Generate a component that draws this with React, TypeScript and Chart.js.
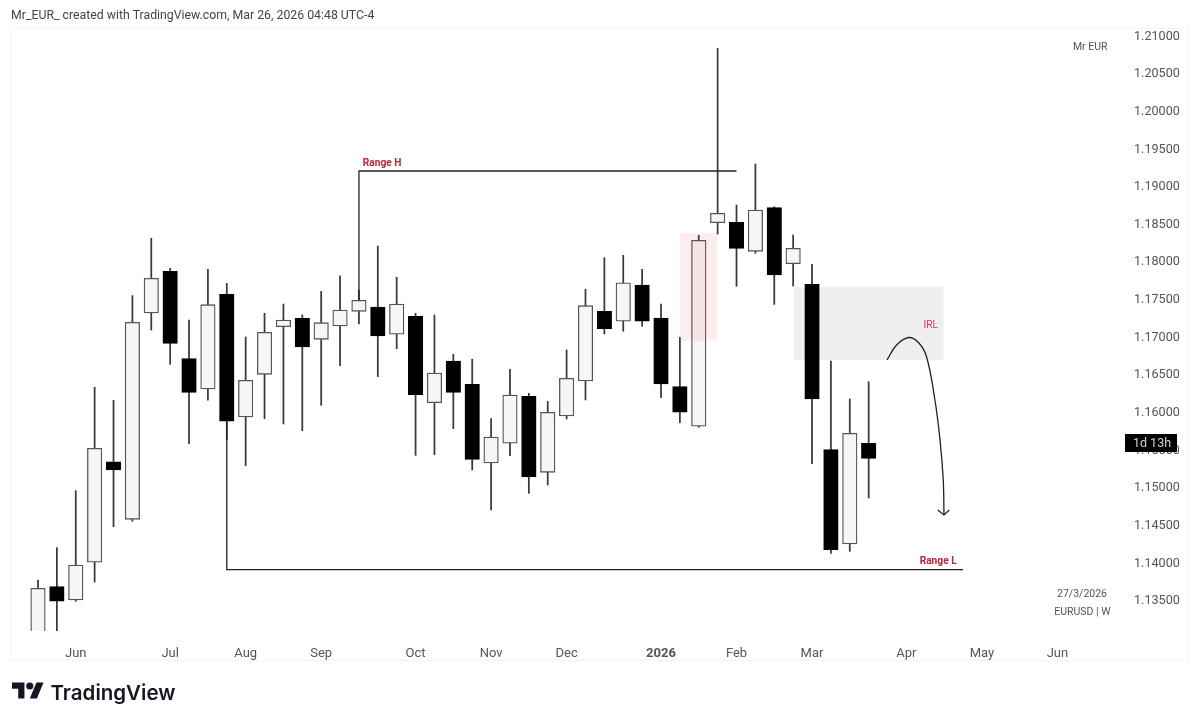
import { useEffect, useRef } from 'react'
import { Chart, registerables } from 'chart.js'

Chart.register(...registerables)

// weekly EURUSD candles
const opens = [1.129, 1.13671, 1.13494, 1.13995, 1.15331, 1.14566, 1.17307, 1.17861, 1.167, 1.16297, 1.17555, 1.15925, 1.16492, 1.17125, 1.17236, 1.16957, 1.17134, 1.17329, 1.17386, 1.17024, 1.17263, 1.16115, 1.16669, 1.1636, 1.15314, 1.15576, 1.162, 1.1519, 1.15938, 1.16403, 1.17329, 1.17197, 1.17679, 1.1724, 1.16328, 1.15802, 1.18506, 1.18512, 1.18126, 1.18706, 1.17962, 1.17688, 1.15491, 1.14238, 1.15576]
const highs = [1.1376, 1.14189, 1.14946, 1.1632, 1.16147, 1.17537, 1.18299, 1.17901, 1.17214, 1.17887, 1.17701, 1.16988, 1.17303, 1.17426, 1.1728, 1.17595, 1.17802, 1.17612, 1.18197, 1.17781, 1.17303, 1.1728, 1.16758, 1.16692, 1.15903, 1.16559, 1.1624, 1.16134, 1.16815, 1.17622, 1.18041, 1.18073, 1.17887, 1.17426, 1.16984, 1.18339, 1.20823, 1.18742, 1.19286, 1.18719, 1.18343, 1.17954, 1.16669, 1.16164, 1.16394]
const lows = [1.128, 1.13, 1.13477, 1.13733, 1.14468, 1.1454, 1.17081, 1.16625, 1.1557, 1.16147, 1.1562, 1.15278, 1.15903, 1.15832, 1.15743, 1.16081, 1.16607, 1.17161, 1.16461, 1.16833, 1.15416, 1.15424, 1.1577, 1.15221, 1.1469, 1.15411, 1.14911, 1.15022, 1.15899, 1.16151, 1.17028, 1.17064, 1.1713, 1.16182, 1.15849, 1.15788, 1.18356, 1.17661, 1.181, 1.17422, 1.17665, 1.15305, 1.14114, 1.14141, 1.14849]
const closes = [1.13649, 1.13477, 1.13959, 1.15509, 1.15221, 1.17183, 1.17768, 1.16904, 1.16253, 1.17417, 1.15868, 1.16413, 1.1705, 1.17214, 1.16855, 1.17178, 1.17347, 1.17475, 1.17001, 1.17426, 1.16221, 1.1651, 1.16253, 1.15363, 1.15659, 1.16217, 1.15128, 1.15988, 1.16439, 1.17404, 1.17094, 1.17709, 1.17197, 1.16364, 1.15988, 1.18273, 1.18631, 1.18166, 1.18675, 1.17812, 1.18166, 1.16164, 1.14162, 1.15709, 1.15376]

const priceTicks = [1.135, 1.14, 1.145, 1.15, 1.155, 1.16, 1.165, 1.17, 1.175, 1.18, 1.185, 1.19, 1.195, 1.2, 1.205, 1.21]
const monthTicks = [2, 7, 11, 15, 20, 24, 28, 33, 37, 41, 46, 50, 54]
const monthLabels = ['Jun', 'Jul', 'Aug', 'Sep', 'Oct', 'Nov', 'Dec', '2026', 'Feb', 'Mar', 'Apr', 'May', 'Jun']

// drawings on the chart, in week index / price
const rangeHighLine = [{ x: 17, y: 1.17475 }, { x: 17, y: 1.19193 }, { x: 37, y: 1.19193 }]
const rangeLowLine = [{ x: 10, y: 1.15868 }, { x: 10, y: 1.13897 }, { x: 49, y: 1.13897 }]
const projection = [
  { x: 44.97, y: 1.16682 }, { x: 45.48, y: 1.16882 }, { x: 46.13, y: 1.16981 }, { x: 46.66, y: 1.16908 },
  { x: 47.07, y: 1.16722 }, { x: 47.51, y: 1.16151 }, { x: 47.78, y: 1.1562 }, { x: 47.95, y: 1.15088 }, { x: 47.99, y: 1.14623 },
]
const arrowHead = [{ x: 47.66, y: 1.1469 }, { x: 47.99, y: 1.14623 }, { x: 48.27, y: 1.1469 }]
const irlBox = [40.04, 47.96, 1.17656, 1.16682]
const fvgBox = [34, 35.98, 1.18366, 1.16939]

const FONT = 'Roboto, sans-serif'
const isUp = (i: number) => closes[i] >= opens[i]

const drawingsPlugin = {
  id: 'drawings',
  beforeDraw(chart: any) {
    const { ctx } = chart
    ctx.save()
    ctx.fillStyle = '#ffffff'
    ctx.fillRect(0, 0, chart.width, chart.height)
    ctx.strokeStyle = '#f2f3f5'
    ctx.strokeRect(10.5, 28.5, 1178, 632)
    ctx.restore()
  },
  beforeDatasetsDraw(chart: any) {
    fillBox(chart, irlBox, '#efefef')
  },
  afterDatasetsDraw(chart: any) {
    const { ctx, scales: { x, y } } = chart
    fillBox(chart, fvgBox, 'rgba(235, 80, 80, 0.1)')
    ctx.save()
    ctx.textBaseline = 'middle'
    ctx.fillStyle = '#bb2338'
    ctx.font = `bold 10.2px ${FONT}`
    ctx.fillText('Range H', x.getPixelForValue(17.2), y.getPixelForValue(1.1929))
    ctx.fillText('Range L', x.getPixelForValue(46.7), y.getPixelForValue(1.14))
    ctx.fillStyle = '#d03a55'
    ctx.font = `10.2px ${FONT}`
    ctx.fillText('IRL', x.getPixelForValue(46.9), y.getPixelForValue(1.17145))
    ctx.fillStyle = '#555555'
    ctx.font = `10.5px ${FONT}`
    ctx.textAlign = 'right'
    ctx.fillText('Mr EUR', 1107.5, 47.5)
    ctx.fillText('27/3/2026', 1107, 594.5)
    ctx.fillText('EURUSD | W', 1110.5, 612.5)
    ctx.restore()
  },
  afterDraw(chart: any) {
    const { ctx } = chart
    ctx.save()
    ctx.fillStyle = '#000000'
    ctx.fillRect(1125, 434, 52, 18)
    ctx.fillStyle = '#d0d0d0'
    ctx.font = `12.5px ${FONT}`
    ctx.textAlign = 'center'
    ctx.textBaseline = 'middle'
    ctx.fillText('1d 13h', 1152, 443.5)
    ctx.restore()
  },
}

function fillBox(chart: any, box: number[], color: string) {
  const { ctx, scales: { x, y } } = chart
  const left = x.getPixelForValue(box[0])
  const top = y.getPixelForValue(box[2])
  ctx.save()
  ctx.fillStyle = color
  ctx.fillRect(left, top, x.getPixelForValue(box[1]) - left, y.getPixelForValue(box[3]) - top)
  ctx.restore()
}

function lineDataset(data: { x: number; y: number }[], tension = 0) {
  return { type: 'line', data, borderColor: '#222222', borderWidth: 1.3, pointRadius: 0, tension, fill: false, order: 1 }
}

export default function App() {
  const canvasRef = useRef<HTMLCanvasElement>(null)

  useEffect(() => {
    if (!canvasRef.current) return

    const chart = new Chart(canvasRef.current, {
      type: 'bar',
      data: {
        datasets: [
          lineDataset(rangeHighLine),
          lineDataset(rangeLowLine),
          lineDataset(projection, 0.4),
          lineDataset(arrowHead),
          {
            data: opens.map((o, i) => ({ x: i, y: [o, closes[i]] })),
            backgroundColor: opens.map((_, i) => (isUp(i) ? '#f6f6f6' : '#000000')),
            borderColor: opens.map((_, i) => (isUp(i) ? '#555555' : '#000000')),
            borderWidth: 1.3,
            borderSkipped: false,
            barThickness: 14.5,
            grouped: false,
            order: 2,
          },
          {
            data: highs.map((h, i) => ({ x: i, y: [lows[i], h] })),
            backgroundColor: '#3a3a3a',
            barThickness: 1.1,
            grouped: false,
            order: 3,
          },
        ],
      } as any,
      options: {
        animation: false,
        responsive: false,
        layout: { padding: { left: 11, top: 28 } },
        plugins: { legend: { display: false }, tooltip: { enabled: false } },
        scales: {
          x: {
            type: 'linear',
            offset: false,
            min: -1.43,
            max: 57.26,
            grid: { display: false },
            border: { display: false },
            afterBuildTicks: (axis: any) => { axis.ticks = monthTicks.map((value) => ({ value })) },
            afterFit: (axis: any) => { axis.height = 91 },
            ticks: {
              autoSkip: false,
              maxRotation: 0,
              padding: 7,
              color: '#555555',
              font: (ctx: any) => ({ family: FONT, size: 13, weight: ctx.tick?.value === 33 ? 'bold' : 'normal' }),
              callback: (value: any) => monthLabels[monthTicks.indexOf(value)],
            },
          },
          y: {
            type: 'linear',
            position: 'right',
            min: 1.13082,
            max: 1.21093,
            grid: { display: false, drawTicks: false },
            border: { display: false },
            afterBuildTicks: (axis: any) => { axis.ticks = priceTicks.map((value) => ({ value })) },
            afterFit: (axis: any) => { axis.width = 80 },
            ticks: {
              autoSkip: false,
              crossAlign: 'near',
              padding: 15,
              labelOffset: 1.5,
              color: '#555555',
              font: { family: FONT, size: 12.6 },
              callback: (value: any) => Number(value).toFixed(5),
            },
          },
        },
      },
      plugins: [drawingsPlugin],
    } as any)

    return () => chart.destroy()
  }, [])

  return (
    <div style={{ position: 'absolute', left: 0, top: 0, width: 1199, height: 722, background: '#fff', overflow: 'hidden' }}>
      <canvas ref={canvasRef} width={1199} height={722} style={{ display: 'block' }} />
      <div style={{ position: 'absolute', left: 11, top: 8, font: `12.3px ${FONT}`, color: '#444', whiteSpace: 'nowrap' }}>
        Mr_EUR_ created with TradingView.com, Mar 26, 2026 04:48 UTC-4
      </div>
      <svg viewBox="0 4 36 18" style={{ position: 'absolute', left: 12, top: 682, width: 32, height: 17 }}>
        <path d="M14 22H7V11H0V4h14v18zM28 22h-8l7.5-18h8L28 22z" fill="#131722" />
        <circle cx="20" cy="8" r="4" fill="#131722" />
      </svg>
      <div style={{ position: 'absolute', left: 50.5, top: 680, font: `600 20.5px Inter, ${FONT}`, color: '#131722', whiteSpace: 'nowrap' }}>
        TradingView
      </div>
    </div>
  )
}
